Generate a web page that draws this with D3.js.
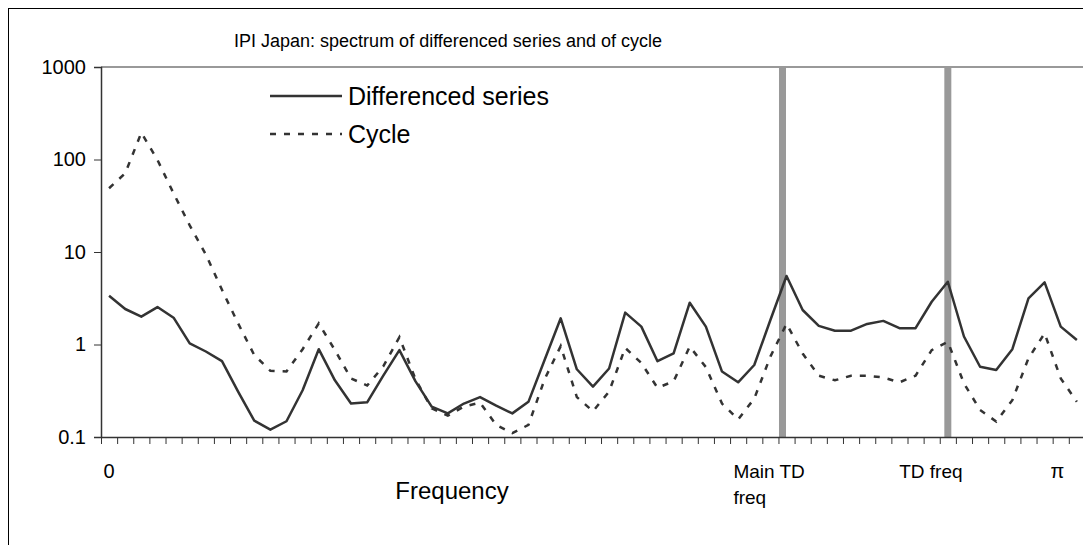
<!DOCTYPE html>
<html>
<head>
<meta charset="utf-8">
<script src="https://cdnjs.cloudflare.com/ajax/libs/d3/7.8.5/d3.min.js"></script>
<style>
    body { margin: 0; background: #fff; }
    svg text { font-family: Arial, "Liberation Sans", sans-serif; fill: #000; }
</style>
</head>
<body>
<div id="chart"></div>
<script>

// spectrum values, one per frequency point (61 points from 0 to pi)
var diffSeries = [3.37, 2.42, 2.0, 2.54, 1.95, 1.03, 0.84, 0.66, 0.31, 0.15,
    0.12, 0.148, 0.32, 0.89, 0.41, 0.23, 0.237, 0.46, 0.87, 0.40,
    0.213, 0.18, 0.23, 0.27, 0.218, 0.18, 0.24, 0.68, 1.92, 0.54,
    0.35, 0.55, 2.21, 1.56, 0.66, 0.80, 2.83, 1.56, 0.51, 0.39,
    0.60, 1.84, 5.5, 2.36, 1.59, 1.41, 1.41, 1.67, 1.80, 1.50,
    1.50, 2.9, 4.77, 1.22, 0.575, 0.53, 0.89, 3.16, 4.7, 1.56,
    1.12];

var cycle = [48.9, 71, 195, 99, 43, 19.4, 9.4, 3.9, 1.69, 0.77,
    0.52, 0.51, 0.89, 1.69, 0.87, 0.43, 0.36, 0.58, 1.2, 0.42,
    0.204, 0.17, 0.213, 0.235, 0.135, 0.11, 0.135, 0.42, 0.96, 0.27,
    0.19, 0.31, 0.92, 0.63, 0.34, 0.40, 0.95, 0.57, 0.23, 0.155,
    0.26, 0.74, 1.67, 0.80, 0.46, 0.41, 0.46, 0.46, 0.44, 0.39,
    0.46, 0.87, 1.07, 0.38, 0.196, 0.147, 0.25, 0.71, 1.32, 0.43,
    0.24];

// trading day frequencies (in frequency point units)
var tdFreqs = [41.75, 52];

var yTicks = [0.1, 1, 10, 100, 1000];
var yTickLabels = ["0.1", "1", "10", "100", "1000"];

var xLabelPos = [0, 41, 50.95, 58.8];
var xLabelText = ["0", "Main TD\nfreq", "TD freq", "\u03c0"];

var legendNames = ["Differenced series", "Cycle"];

var svgWidth = 1083,
    svgHeight = 545;

var margin = {top: 67, left: 101};
var plotBottom = 437;
var nPts = diffSeries.length;
var step = 16.13;

var svg = d3.select("#chart").append("svg")
    .attr("width", svgWidth)
    .attr("height", svgHeight);

// chart area border (cropped on the right and bottom)
svg.append("rect")
    .attr("x", 8.5)
    .attr("y", 8.5)
    .attr("width", svgWidth + 20)
    .attr("height", svgHeight + 20)
    .attr("fill", "none")
    .attr("stroke", "#000")
    .attr("stroke-width", 1);

var xscale = d3.scaleLinear()
    .domain( [-0.5, nPts - 0.5] )
    .range( [margin.left, margin.left + nPts * step] );

var yscale = d3.scaleLog()
    .domain( [0.1, 1000] )
    .range( [plotBottom, margin.top] );

// title
svg.append("text")
    .attr("x", 448)
    .attr("y", 47)
    .attr("text-anchor", "middle")
    .style("font-size", "18px")
    .text("IPI Japan: spectrum of differenced series and of cycle");

// top gridline
svg.append("line")
    .attr("x1", xscale(-0.5))
    .attr("x2", svgWidth)
    .attr("y1", yscale(1000))
    .attr("y2", yscale(1000))
    .attr("stroke", "#999")
    .attr("stroke-width", 2);

// trading day bars
svg.selectAll(".td-bar")
    .data(tdFreqs)
    .enter()
    .append("line")
    .attr("class", "td-bar")
    .attr("x1", d => xscale(d))
    .attr("x2", d => xscale(d))
    .attr("y1", yscale(1000))
    .attr("y2", yscale(0.1))
    .attr("stroke", "#999")
    .attr("stroke-width", 7);

// y axis
var yAxis = d3.axisLeft( yscale )
    .tickValues( yTicks )
    .tickSize( 7 )
    .tickFormat( (d, i) => yTickLabels[i] );

var gY = svg.append("g")
    .attr("class", "axis--y")
    .attr("transform", "translate(" + margin.left + ",0)")
    .call( yAxis );
gY.select(".domain").attr("stroke", "#333").attr("stroke-width", 1.5);
gY.selectAll(".tick line").attr("stroke", "#333");
gY.selectAll(".tick text")
    .attr("x", -15)
    .style("font-size", "20px")
    .style("font-family", "Arial, 'Liberation Sans', sans-serif");

// x axis: ticks between frequency points, labels placed separately
var xTickVals = d3.range(nPts + 1).map(k => k - 0.5);
var xAxis = d3.axisBottom( xscale )
    .tickValues( xTickVals )
    .tickSize( 7 )
    .tickSizeOuter( 0 )
    .tickFormat( "" );

var gX = svg.append("g")
    .attr("class", "axis--x")
    .attr("transform", "translate(0," + plotBottom + ")")
    .call( xAxis );
gX.select(".domain").attr("stroke", "#333").attr("stroke-width", 1.5);
gX.selectAll(".tick line").attr("stroke", "#333");

var xLab = svg.selectAll(".x-label")
    .data(xLabelText)
    .enter()
    .append("text")
    .attr("class", "x-label")
    .attr("y", 478)
    .style("font-size", (d, i) => (i == 0 || i == 3) ? "20px" : "19px")
    .attr("text-anchor", "middle");

xLab.each(function(d, i) {
    var lines = d.split("\n");
    var t = d3.select(this);
    var x0 = xscale(xLabelPos[i]);
    if (lines.length > 1) {
        t.attr("text-anchor", "start");
        x0 = x0 - 37;
    }
    lines.forEach(function(s, j) {
        t.append("tspan")
            .attr("x", x0)
            .attr("dy", j == 0 ? 0 : 26)
            .text(s);
    });
});

svg.append("text")
    .attr("x", 452)
    .attr("y", 499)
    .attr("text-anchor", "middle")
    .style("font-size", "24px")
    .text("Frequency");

// series lines
var line = d3.line()
    .x( (d, i) => xscale(i) )
    .y( d => yscale(d) );

svg.append("path")
    .datum(cycle)
    .attr("d", line)
    .attr("fill", "none")
    .attr("stroke", "#333")
    .attr("stroke-width", 2.5)
    .attr("stroke-dasharray", "6,8");

svg.append("path")
    .datum(diffSeries)
    .attr("d", line)
    .attr("fill", "none")
    .attr("stroke", "#333")
    .attr("stroke-width", 2.5)
    .attr("stroke-linejoin", "round");

// legend
var legend = svg.selectAll(".legend")
    .data(legendNames)
    .enter()
    .append("g")
    .attr("class", "legend")
    .attr("transform", (d, i) => "translate(270," + (96 + i * 38) + ")");

legend.append("line")
    .attr("x1", 0)
    .attr("x2", 72)
    .attr("stroke", "#333")
    .attr("stroke-width", 2.5)
    .attr("stroke-dasharray", (d, i) => i == 0 ? null : "6,8");

legend.append("text")
    .attr("x", 78)
    .attr("dy", "0.35em")
    .style("font-size", "25px")
    .text(d => d);

</script>
</body>
</html>
